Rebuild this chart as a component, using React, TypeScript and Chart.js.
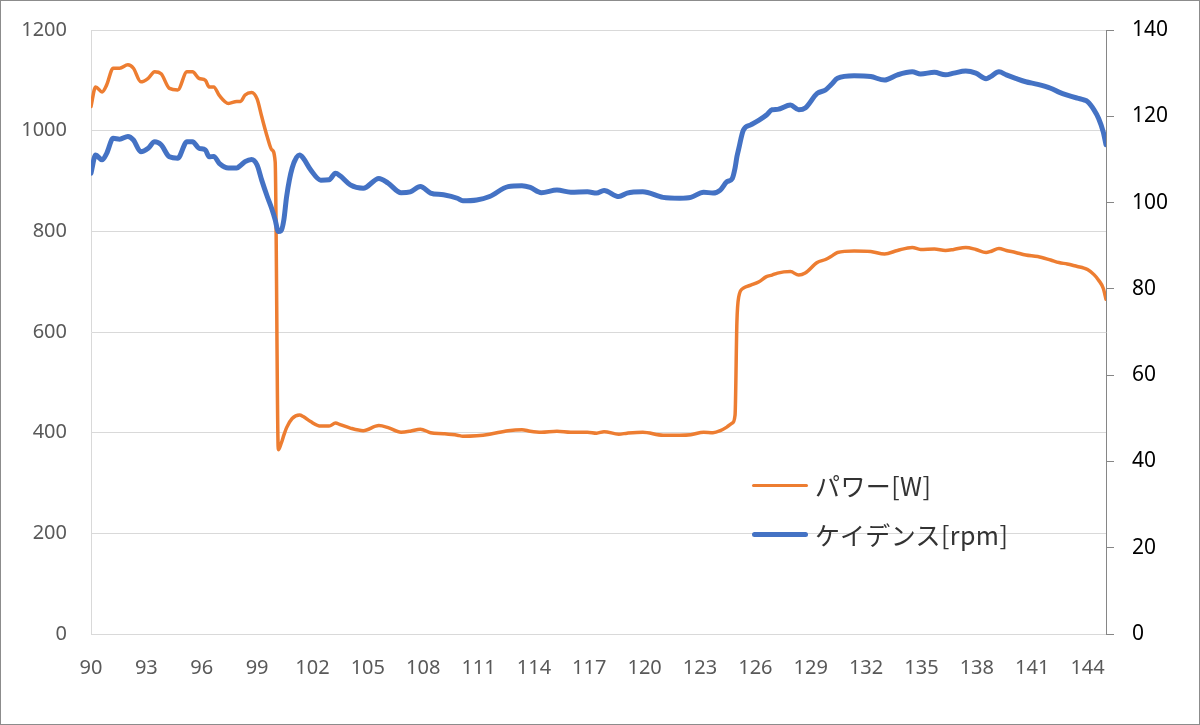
import React, { useEffect, useRef } from 'react';
import Chart from 'chart.js/auto';

// elapsed time (x axis)
const seconds = [
  90.0, 90.25, 90.6, 90.85, 91.2, 91.55, 92.0, 92.3, 92.7, 93.1, 93.45, 93.8, 94.25, 94.7,
  95.2, 95.5, 95.85, 96.2, 96.4, 96.65, 96.95, 97.45, 97.9, 98.1, 98.35, 98.7, 99.0, 99.25,
  99.55, 99.8, 99.98, 100.15, 100.3, 100.45, 100.6, 100.9, 101.3, 101.5, 101.9, 102.45, 102.9,
  103.25, 103.5, 104.05, 104.75, 105.6, 106.1, 106.8, 107.3, 107.85, 108.4, 109.1, 109.85,
  110.15, 110.9, 111.6, 112.6, 113.35, 113.8, 114.4, 115.25, 116.0, 116.9, 117.4, 117.8, 118.6,
  119.05, 119.9, 121.0, 121.9, 122.5, 123.2, 123.7, 124.1, 124.45, 124.75, 124.9, 125.0, 125.1,
  125.35, 125.75, 126.2, 126.6, 126.9, 127.2, 127.9, 128.35, 128.7, 129.35, 129.8, 130.1,
  130.45, 131.35, 132.25, 133.0, 133.7, 134.5, 134.95, 135.7, 136.3, 136.75, 137.4, 137.95,
  138.5, 138.75, 139.2, 139.6, 140.1, 140.65, 141.3, 142.0, 142.45, 142.9, 143.45, 143.8,
  144.0, 144.35, 144.6, 144.85, 145.0,
];

// パワー [W]
const power = [
  1048, 1087, 1077, 1091, 1124, 1124, 1131, 1124, 1097, 1104, 1117, 1113, 1084, 1081,
  1117, 1117, 1104, 1100, 1087, 1087, 1070, 1054, 1058, 1058, 1071, 1076, 1063, 1028,
  988, 962, 938, 366, 378, 395, 410, 428, 435, 432, 422, 413, 413,
  419, 416, 409, 404, 414, 410, 401, 403, 407, 400, 398, 395,
  393, 394, 397, 404, 406, 403, 401, 403, 401, 401, 399, 402, 397,
  399, 401, 395, 395, 396, 401, 400, 404, 411, 419, 435, 620, 670,
  687, 693, 700, 710, 713, 717, 720, 713, 717, 738, 744, 750,
  758, 761, 760, 755, 762, 768, 764, 765, 762, 764, 768, 764,
  758, 760, 766, 762, 758, 753, 750, 743, 738, 735, 730, 727,
  724, 714, 703, 687, 665,
];

// ケイデンス [rpm]
const cadence = [
  106.8, 111.0, 109.9, 111.4, 114.9, 114.7, 115.3, 114.5, 111.8, 112.6, 114.1, 113.4, 110.6, 110.3,
  114.1, 114.1, 112.6, 112.2, 110.6, 110.7, 109.1, 108.0, 108.0, 108.6, 109.5, 110.0, 108.7, 105.2,
  101.4, 98.5, 96.0, 93.3, 93.5, 96.0, 101.4, 108.0, 111.0, 110.3, 107.6, 105.2, 105.3,
  106.8, 106.2, 104.1, 103.3, 105.6, 104.5, 102.3, 102.5, 103.7, 102.2, 101.8, 101.0,
  100.4, 100.6, 101.4, 103.7, 103.9, 103.5, 102.3, 102.9, 102.4, 102.5, 102.2, 102.8, 101.4,
  102.2, 102.5, 101.2, 101.0, 101.2, 102.4, 102.2, 102.9, 104.8, 105.6, 108.0, 110.6, 112.5,
  116.8, 118.0, 119.1, 120.3, 121.5, 121.6, 122.6, 121.5, 121.9, 125.3, 126.1, 127.3,
  128.8, 129.4, 129.2, 128.4, 129.6, 130.3, 129.8, 130.2, 129.6, 130.0, 130.5, 130.0,
  128.7, 129.2, 130.3, 129.6, 128.8, 128.0, 127.4, 126.5, 125.6, 124.9, 124.2, 123.8,
  123.4, 121.5, 119.5, 116.4, 113.4,
];

const powerLabel = 'パワー[W]';
const cadenceLabel = 'ケイデンス[rpm]';

const ORANGE = '#ED7D31';
const BLUE = '#4472C4';

const App: React.FC = () => {
  const chartRef = useRef<HTMLCanvasElement>(null);
  const chartInstance = useRef<Chart | null>(null);

  useEffect(() => {
    if (!chartRef.current) return;
    if (chartInstance.current) {
      chartInstance.current.destroy();
    }

    const ctx = chartRef.current.getContext('2d');
    if (!ctx) return;

    chartInstance.current = new Chart(ctx, {
      type: 'line',
      data: {
        datasets: [
          {
            label: powerLabel,
            data: seconds.map((x, i) => ({ x, y: power[i] })),
            yAxisID: 'y',
            borderColor: ORANGE,
            borderWidth: 3.5,
            pointRadius: 0,
            cubicInterpolationMode: 'monotone',
            borderJoinStyle: 'round',
            borderCapStyle: 'round',
            order: 2,
          },
          {
            label: cadenceLabel,
            data: seconds.map((x, i) => ({ x, y: cadence[i] })),
            yAxisID: 'y1',
            borderColor: BLUE,
            borderWidth: 5,
            pointRadius: 0,
            cubicInterpolationMode: 'monotone',
            borderJoinStyle: 'round',
            borderCapStyle: 'round',
            order: 1,
          },
        ],
      },
      options: {
        responsive: false,
        animation: false,
        devicePixelRatio: 1,
        layout: { padding: { top: 30, left: 0, right: 0, bottom: 0 } },
        plugins: {
          legend: { display: false },
          tooltip: { enabled: false },
        },
        scales: {
          x: {
            type: 'linear',
            min: 90,
            max: 145,
            grid: { display: false },
            border: { display: true, color: '#d9d9d9', width: 1 },
            ticks: {
              stepSize: 3,
              includeBounds: false,
              color: '#595959',
              padding: 14,
              maxRotation: 0,
              font: { family: '"Noto Sans"', size: 20 },
              callback: (value) => String(value),
            },
            afterFit: (scale) => {
              scale.height = 91;
            },
          },
          y: {
            position: 'left',
            min: 0,
            max: 1200,
            grid: { color: '#d9d9d9', lineWidth: 1, drawTicks: false },
            border: { display: true, color: '#d9d9d9', width: 1 },
            ticks: {
              stepSize: 200,
              color: '#595959',
              padding: 24,
              font: { family: '"Noto Sans"', size: 20 },
              callback: (value) => String(value),
            },
            afterFit: (scale) => {
              scale.width = 91;
              scale.paddingTop = 0;
              scale.paddingBottom = 0;
            },
          },
          y1: {
            position: 'right',
            min: 0,
            max: 140,
            grid: { drawOnChartArea: false, drawTicks: true, tickLength: 8, color: '#868686' },
            border: { display: true, color: '#868686', width: 1 },
            ticks: {
              stepSize: 20,
              color: '#000000',
              padding: 18,
              font: { family: '"Noto Sans"', size: 21 },
              callback: (value) => String(value),
            },
            afterFit: (scale) => {
              scale.width = 94;
              scale.paddingTop = 0;
              scale.paddingBottom = 0;
            },
          },
        },
      },
    });

    return () => {
      if (chartInstance.current) {
        chartInstance.current.destroy();
        chartInstance.current = null;
      }
    };
  }, []);

  const legendText: React.CSSProperties = {
    position: 'absolute',
    left: 815,
    transform: 'translateY(-50%)',
    fontFamily: '"Noto Sans CJK JP", "Noto Sans", sans-serif',
    fontSize: 25,
    letterSpacing: '0.4px',
    lineHeight: '30px',
    color: '#333333',
    whiteSpace: 'nowrap',
  };

  return (
    <div style={{ position: 'absolute', left: 0, top: 0, width: 1200, height: 725, background: '#ffffff' }}>
      <canvas ref={chartRef} width={1200} height={725} style={{ position: 'absolute', left: 0, top: 0 }}></canvas>
      {/* legend, sitting inside the plot area */}
      <div style={{ position: 'absolute', left: 752, top: 483.5, width: 56, height: 3, background: ORANGE, borderRadius: 2 }} />
      <div style={{ ...legendText, top: 485 }}>{powerLabel}</div>
      <div style={{ position: 'absolute', left: 752, top: 531.5, width: 56, height: 5, background: BLUE, borderRadius: 3 }} />
      <div style={{ ...legendText, top: 534 }}>{cadenceLabel}</div>
      <div
        style={{
          position: 'absolute',
          left: 0,
          top: 0,
          width: 1200,
          height: 725,
          boxSizing: 'border-box',
          border: '1px solid #8c8c8c',
          pointerEvents: 'none',
        }}
      />
    </div>
  );
};

export default App;
